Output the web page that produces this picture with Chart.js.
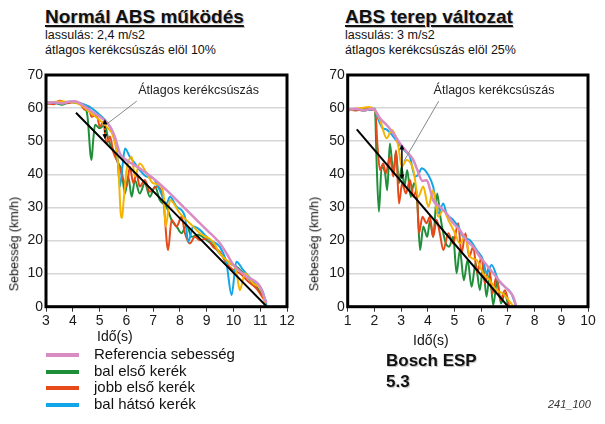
<!DOCTYPE html>
<html>
<head>
<meta charset="utf-8">
<script src="https://cdn.jsdelivr.net/npm/chart.js@4"></script>
<style>
body { margin:0; background:#fff; font-family:"Liberation Sans", Arial, sans-serif; }
#page { position:relative; width:605px; height:424px; overflow:hidden; background:#fff; }
.t { position:absolute; white-space:nowrap; color:#111; }
.title { font-size:19px; font-weight:bold; text-decoration:underline; text-decoration-thickness:2px; text-underline-offset:2px; text-shadow:1px 1px 1px #bbb; }
.sub { font-size:12.5px; line-height:14.5px; }
.ytitle { font-size:12.5px; transform:rotate(-90deg); transform-origin:center; }
.xtitle { font-size:14px; }
.lg { font-size:15px; line-height:16.5px; }
.sw { position:absolute; width:33px; height:4px; }
canvas { position:absolute; }
</style>
</head>
<body>
<div id="page">
  <div class="t title" style="left:45px;top:6px">Normál ABS működés</div>
  <div class="t sub" style="left:45px;top:28px">lassulás: 2,4 m/s2<br>átlagos kerékcsúszás elöl 10%</div>
  <div class="t title" style="left:345px;top:6px">ABS terep változat</div>
  <div class="t sub" style="left:345px;top:28px">lassulás: 3 m/s2<br>átlagos kerékcsúszás elöl 25%</div>

  <canvas id="left" width="300" height="270" style="left:0;top:60px"></canvas>
  <canvas id="right" width="305" height="270" style="left:300px;top:60px"></canvas>

  <div class="t ytitle" style="left:-33px;top:237px">Sebesség (km/h)</div>
  <div class="t ytitle" style="left:267px;top:237px">Sebesség (km/h)</div>
  <div class="t xtitle" style="left:97px;top:328px">Idő(s)</div>
  <div class="t xtitle" style="left:413px;top:332px">Idő(s)</div>

  <div class="sw" style="left:46px;top:353px;background:#d98cc4"></div>
  <div class="sw" style="left:46px;top:370px;background:#1f8f3a"></div>
  <div class="sw" style="left:46px;top:386px;background:#e64a19"></div>
  <div class="sw" style="left:46px;top:403px;background:#12a6e8"></div>
  <div class="t lg" style="left:94px;top:346px">Referencia sebesség<br>bal első kerék<br>jobb első kerék<br>bal hátsó kerék</div>

  <div class="t" style="left:386px;top:350px;font-size:17px;font-weight:bold;line-height:21px;text-shadow:1px 1px 1px #bbb">Bosch ESP<br>5.3</div>
  <div class="t" style="left:548px;top:398px;font-size:11px;font-style:italic;color:#333">241_100</div>
</div>
<script>
// ---- left chart: Normál ABS működés ----
const leftRefT   = [3.0, 3.3, 3.6, 3.9, 4.1, 4.4, 4.64, 5.01, 5.2, 5.39, 5.57, 5.76, 6.0, 6.5, 7.0, 7.5, 8.0, 8.5, 9.0, 9.5, 9.74, 10.0, 10.5, 11.0, 11.23];
const leftRefV   = [61.5, 61.8, 61.4, 62.0, 62.0, 60.8, 59.4, 57.4, 56.2, 54.4, 51.4, 46.3, 44.3, 41.8, 38.8, 35.2, 31.2, 27.2, 23.2, 19.1, 16.1, 12.6, 9.1, 6.0, 1.0];
const leftGreenT = [3.0, 3.3, 3.6, 3.9, 4.1, 4.39, 4.55, 4.66, 4.7, 4.76, 4.83, 5.0, 5.2, 5.33, 5.51, 5.7, 5.82, 5.95, 6.07, 6.2, 6.32, 6.5, 6.69, 6.88, 7.07, 7.25, 7.5, 7.69, 7.88, 8.06, 8.25, 8.44, 8.68, 9.0, 9.24, 9.49, 9.87, 10.1, 10.5, 10.86, 11.23];
const leftGreenV = [61.2, 61.6, 61.0, 61.8, 61.6, 61.0, 57.5, 46.0, 44.3, 50.0, 55.0, 53.9, 54.9, 50.4, 47.3, 43.3, 41.3, 34.2, 39.3, 33.2, 38.3, 34.2, 37.3, 33.2, 36.3, 32.2, 30.2, 26.2, 24.2, 22.2, 24.7, 21.1, 21.7, 20.1, 18.6, 16.1, 13.1, 12.1, 9.1, 6.0, 1.5];
const leftRedT   = [3.0, 3.3, 3.5, 3.8, 4.1, 4.3, 4.46, 4.58, 4.7, 4.89, 5.01, 5.14, 5.26, 5.39, 5.51, 5.7, 5.89, 6.01, 6.13, 6.26, 6.38, 6.5, 6.69, 6.88, 7.13, 7.38, 7.56, 7.69, 7.88, 8.06, 8.19, 8.37, 8.56, 8.75, 9.0, 9.24, 9.49, 9.74, 9.99, 10.24, 10.55, 10.86, 11.23];
const leftRedV   = [61.5, 61.2, 62.2, 61.5, 62.0, 61.0, 59.4, 60.4, 57.4, 57.9, 54.4, 55.9, 49.3, 51.4, 46.8, 43.3, 38.3, 36.3, 42.3, 37.3, 40.3, 36.3, 38.3, 34.7, 36.3, 32.2, 17.1, 26.2, 24.2, 27.2, 22.2, 19.1, 21.1, 20.1, 20.6, 18.1, 16.6, 13.1, 11.1, 10.1, 7.6, 5.5, 1.0];
const leftBlueT  = [3.0, 3.5, 4.0, 4.3, 4.6, 5.0, 5.3, 5.5, 5.65, 5.76, 5.85, 5.95, 6.13, 6.32, 6.5, 6.76, 7.0, 7.25, 7.5, 7.63, 7.88, 8.19, 8.31, 8.5, 8.75, 9.12, 9.49, 9.74, 9.93, 10.11, 10.36, 10.74, 11.1, 11.23];
const leftBlueV  = [61.8, 61.5, 62.0, 61.5, 60.5, 58.0, 55.5, 52.5, 47.0, 36.3, 42.0, 47.8, 45.3, 43.3, 41.3, 39.3, 38.8, 35.2, 31.2, 33.2, 30.2, 27.2, 19.6, 24.2, 23.2, 20.1, 18.1, 13.1, 3.5, 13.6, 11.1, 7.6, 4.5, 0.5];
const leftYellowT = [3.0, 3.5, 4.0, 4.3, 4.6, 5.0, 5.3, 5.51, 5.7, 5.79, 5.84, 5.9, 6.01, 6.2, 6.32, 6.5, 6.76, 7.0, 7.25, 7.4, 7.47, 7.55, 7.63, 8.0, 8.37, 8.75, 9.24, 9.49, 9.87, 10.1, 10.24, 10.35, 10.43, 10.74, 11.1, 11.17];
const leftYellowV = [61.5, 62.0, 61.8, 61.0, 59.0, 56.4, 54.0, 51.4, 42.3, 28.2, 26.8, 32.0, 41.3, 45.3, 39.3, 43.3, 40.3, 37.3, 36.8, 33.0, 24.2, 28.0, 32.2, 28.2, 25.2, 22.2, 19.6, 16.1, 13.1, 11.0, 5.0, 8.0, 10.1, 7.0, 4.0, 0.5];
const leftFitT = [4.12, 11.25];
const leftFitV = [58.6, 0];

// ---- right chart: ABS terep változat ----
const rightRefT   = [1.0, 1.3, 1.6, 1.9, 2.0, 2.21, 2.46, 2.71, 2.96, 3.21, 3.46, 3.6, 3.8, 3.96, 4.1, 4.2, 4.45, 4.7, 4.95, 5.2, 5.45, 5.7, 5.95, 6.2, 6.45, 6.7, 6.95, 7.2, 7.3];
const rightRefV   = [59.5, 59.8, 59.3, 59.8, 59.6, 56.9, 54.9, 52.4, 49.3, 46.8, 44.3, 41.5, 38.0, 38.2, 35.0, 32.2, 30.2, 28.2, 25.2, 23.2, 20.1, 18.1, 15.1, 12.6, 10.1, 7.6, 5.5, 3.0, 0.5];
const rightGreenT = [1.0, 1.3, 1.6, 1.9, 2.02, 2.08, 2.17, 2.27, 2.4, 2.48, 2.58, 2.71, 2.81, 2.92, 3.02, 3.12, 3.23, 3.36, 3.48, 3.61, 3.71, 3.83, 3.98, 4.08, 4.2, 4.35, 4.47, 4.64, 4.8, 4.95, 5.08, 5.2, 5.35, 5.49, 5.64, 5.79, 5.95, 6.07, 6.2, 6.32, 6.45, 6.6, 6.74, 6.89, 7.01];
const rightGreenV = [59.3, 59.6, 59.2, 59.8, 59.8, 44.3, 28.7, 42.3, 40.3, 35.2, 49.3, 40.3, 46.8, 37.3, 42.3, 36.3, 41.3, 33.2, 37.3, 31.2, 17.1, 24.2, 21.1, 26.0, 21.1, 34.2, 27.2, 20.1, 18.1, 21.1, 10.1, 17.1, 8.0, 14.1, 6.0, 13.1, 5.0, 12.1, 3.0, 10.1, 0.5, 8.0, 1.0, 4.0, 0.2];
const rightRedT   = [1.0, 1.3, 1.6, 1.9, 2.03, 2.11, 2.21, 2.33, 2.43, 2.58, 2.71, 2.81, 2.92, 3.04, 3.18, 3.33, 3.46, 3.58, 3.67, 3.8, 3.95, 4.08, 4.2, 4.33, 4.45, 4.58, 4.77, 4.95, 5.14, 5.26, 5.41, 5.55, 5.7, 5.85, 6.01, 6.14, 6.29, 6.42, 6.57, 6.72, 6.89, 7.05];
const rightRedV   = [59.6, 59.3, 60.0, 59.5, 59.5, 49.3, 41.3, 43.3, 40.3, 45.3, 39.3, 47.3, 31.2, 37.3, 34.2, 38.3, 33.2, 35.2, 22.2, 27.2, 25.2, 27.2, 21.1, 26.2, 22.2, 17.1, 22.2, 19.1, 25.2, 16.1, 22.2, 15.1, 18.1, 10.1, 15.1, 7.0, 12.1, 4.0, 9.1, 2.0, 5.0, 0.2];
const rightBlueT  = [1.0, 1.4, 1.8, 2.0, 2.15, 2.3, 2.46, 2.7, 2.96, 3.15, 3.33, 3.52, 3.65, 3.77, 4.02, 4.2, 4.39, 4.58, 4.7, 4.95, 5.14, 5.33, 5.58, 5.83, 6.07, 6.2, 6.39, 6.64, 6.89, 7.13, 7.3];
const rightBlueV  = [59.5, 59.7, 59.4, 59.8, 56.5, 54.0, 53.5, 51.5, 48.8, 47.0, 45.3, 39.3, 40.0, 41.8, 39.8, 36.3, 28.2, 31.2, 28.2, 26.2, 24.2, 21.1, 20.1, 17.1, 14.1, 10.1, 12.6, 8.0, 6.0, 4.0, 0.2];
const rightYellowT = [1.0, 1.5, 1.8, 2.0, 2.21, 2.46, 2.65, 2.9, 3.02, 3.21, 3.46, 3.64, 3.83, 4.02, 4.2, 4.39, 4.58, 4.77, 5.02, 5.2, 5.39, 5.58, 5.83, 6.07, 6.32, 6.57, 6.82, 7.07, 7.2];
const rightYellowV = [59.4, 60.0, 60.3, 59.5, 56.4, 50.9, 53.4, 48.3, 42.3, 44.3, 41.3, 33.2, 36.3, 30.2, 35.2, 27.2, 29.2, 26.2, 22.2, 19.1, 21.1, 15.1, 14.1, 10.1, 8.0, 5.0, 4.0, 1.5, 0.2];
const rightFitT = [1.34, 7.01];
const rightFitV = [53.6, 0];

const yTicks = [0, 10, 20, 30, 40, 50, 60, 70];
const noteText = 'Átlagos kerékcsúszás';

const colors = { ref: '#d98cc4', green: '#1f8f3a', red: '#e64a19', blue: '#12a6e8', yellow: '#f5b400' };

function pts(ts, vs) {
    return ts.map((t, i) => ({ x: t, y: vs[i] }));
}

function line(ts, vs, color, order, width) {
    return {
        data: pts(ts, vs),
        borderColor: color,
        borderWidth: width || 2,
        pointRadius: 0,
        fill: false,
        order: order,
        cubicInterpolationMode: 'monotone'
    };
}

// thick frame round the plot + the "Átlagos kerékcsúszás" note
const framePlugin = {
    id: 'frameNote',
    afterDraw(chart, args, opts) {
        const ctx = chart.ctx;
        const a = chart.chartArea;
        const xs = chart.scales.x, ys = chart.scales.y;
        ctx.save();
        ctx.strokeStyle = '#000';
        ctx.lineWidth = 3;
        ctx.strokeRect(a.left, a.top, a.right - a.left, a.bottom - a.top);

        // leader line
        ctx.strokeStyle = '#888';
        ctx.lineWidth = 1;
        ctx.beginPath();
        ctx.moveTo(xs.getPixelForValue(opts.from[0]), ys.getPixelForValue(opts.from[1]));
        ctx.lineTo(xs.getPixelForValue(opts.to[0]), ys.getPixelForValue(opts.to[1]));
        ctx.stroke();

        // double arrow
        const ax = xs.getPixelForValue(opts.arrow[0]);
        const y1 = ys.getPixelForValue(opts.arrow[1]);
        const y2 = ys.getPixelForValue(opts.arrow[2]);
        ctx.strokeStyle = '#000';
        ctx.fillStyle = '#000';
        ctx.lineWidth = 1.5;
        if (opts.dashed) ctx.setLineDash([2, 2]);
        ctx.beginPath();
        ctx.moveTo(ax, y1 + 3);
        ctx.lineTo(ax, y2 - 3);
        ctx.stroke();
        ctx.setLineDash([]);
        ctx.beginPath();
        ctx.moveTo(ax, y1); ctx.lineTo(ax - 2.5, y1 + 5); ctx.lineTo(ax + 2.5, y1 + 5); ctx.closePath();
        ctx.moveTo(ax, y2); ctx.lineTo(ax - 2.5, y2 - 5); ctx.lineTo(ax + 2.5, y2 - 5); ctx.closePath();
        ctx.fill();

        ctx.font = '12.5px "Liberation Sans", Arial, sans-serif';
        ctx.fillStyle = '#222';
        ctx.textAlign = 'center';
        ctx.textBaseline = 'middle';
        ctx.fillText(noteText, xs.getPixelForValue(opts.text[0]), ys.getPixelForValue(opts.text[1]));
        ctx.restore();
    }
};

function makeChart(id, xMin, xMax, sets, note, yWidth, padRight) {
    const tickFont = { family: '"Liberation Sans", Arial, sans-serif', size: 14 };
    return new Chart(document.getElementById(id), {
        type: 'line',
        data: { datasets: sets },
        options: {
            responsive: false,
            animation: false,
            parsing: true,
            layout: { padding: { left: 0, top: 15, right: padRight, bottom: 0 } },
            plugins: { legend: { display: false }, tooltip: { enabled: false }, frameNote: note },
            scales: {
                x: {
                    type: 'linear', min: xMin, max: xMax,
                    ticks: { stepSize: 1, color: '#1a1a1a', font: tickFont, padding: 1, maxRotation: 0, autoSkip: false },
                    grid: { drawOnChartArea: false, color: '#333', tickLength: 5 },
                    border: { display: false },
                    afterFit(s) { s.height = 23.3; }
                },
                y: {
                    min: 0, max: 70,
                    afterBuildTicks(s) { s.ticks = yTicks.map(v => ({ value: v })); },
                    ticks: { color: '#1a1a1a', font: tickFont, padding: 3 },
                    grid: { color: '#d6d6d6', lineWidth: 1.5, drawTicks: false },
                    border: { display: false },
                    afterFit(s) { s.width = yWidth; }
                }
            }
        },
        plugins: [framePlugin]
    });
}

makeChart('left', 3, 12, [
    line(leftFitT, leftFitV, '#000', 0, 2),
    line(leftRefT, leftRefV, colors.ref, 1, 2.5),
    line(leftBlueT, leftBlueV, colors.blue, 3),
    line(leftYellowT, leftYellowV, colors.yellow, 2),
    line(leftRedT, leftRedV, colors.red, 4),
    line(leftGreenT, leftGreenV, colors.green, 5)
], { text: [8.7, 65.2], from: [6.39, 62.1], to: [5.24, 55.0], arrow: [5.2, 56.6, 50.6], dashed: true }, 46, 13);

makeChart('right', 1, 10, [
    line(rightFitT, rightFitV, '#000', 0, 2),
    line(rightRefT, rightRefV, colors.ref, 1, 2.5),
    line(rightBlueT, rightBlueV, colors.blue, 3),
    line(rightYellowT, rightYellowV, colors.yellow, 2),
    line(rightRedT, rightRedV, colors.red, 4),
    line(rightGreenT, rightGreenV, colors.green, 5)
], { text: [6.48, 65.2], from: [4.41, 62.1], to: [3.1, 43.9], arrow: [3.03, 49.0, 38.4], dashed: false }, 47.7, 17);
</script>
</body>
</html>
